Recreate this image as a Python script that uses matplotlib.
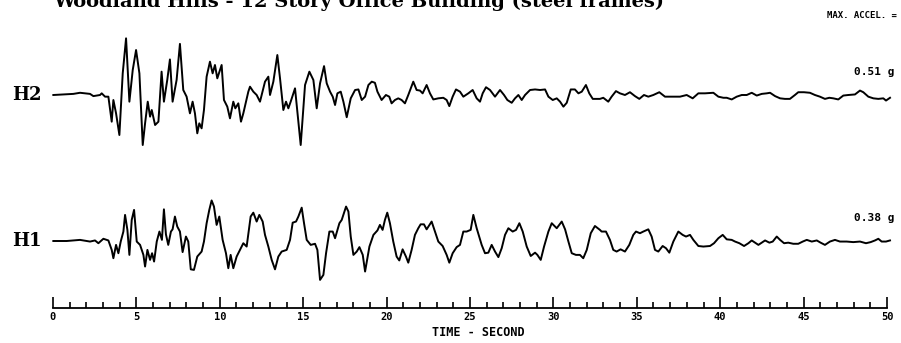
import numpy as np
import matplotlib
matplotlib.use('Agg')
import matplotlib.pyplot as plt
from matplotlib.ticker import FixedLocator

# digitised accelerogram, time in seconds, acceleration in g
h2_time = [0.02, 1.22, 1.62, 2.22, 2.42, 2.82, 2.92, 3.12, 3.32, 3.52, 3.62, 3.78, 3.98, 4.18, 4.38,
           4.58, 4.78, 4.98, 5.18, 5.38, 5.52, 5.68, 5.82, 5.92, 6.12, 6.32, 6.51, 6.65, 6.85, 7.01,
           7.17, 7.41, 7.61, 7.81, 8.01, 8.21, 8.37, 8.51, 8.65, 8.77, 8.91, 9.05, 9.21, 9.41, 9.57,
           9.71, 9.85, 10.11, 10.25, 10.45, 10.61, 10.81, 10.93, 11.11, 11.27, 11.41, 11.71, 11.81,
           12.01, 12.21, 12.41, 12.71, 12.91, 13.01, 13.21, 13.45, 13.61, 13.81, 13.97, 14.11, 14.25,
           14.51, 14.65, 14.85, 15.11, 15.37, 15.61, 15.81, 16.01, 16.25, 16.41, 16.61, 16.77, 16.91,
           17.05, 17.25, 17.41, 17.61, 17.85, 18.11, 18.31, 18.51, 18.71, 18.91, 19.11, 19.30, 19.45,
           19.70, 19.96, 20.16, 20.30, 20.50, 20.70, 20.90, 21.10, 21.30, 21.60, 21.80, 22.00, 22.16,
           22.40, 22.60, 22.80, 23.10, 23.40, 23.60, 23.76, 23.96, 24.16, 24.40, 24.60, 24.90, 25.16,
           25.40, 25.60, 25.76, 25.96, 26.20, 26.50, 26.80, 27.04, 27.24, 27.50, 27.70, 27.90, 28.10,
           28.30, 28.60, 28.90, 29.20, 29.50, 29.70, 29.96, 30.20, 30.40, 30.60, 30.80, 31.04, 31.29,
           31.50, 31.70, 31.95, 32.15, 32.36, 32.79, 32.99, 33.29, 33.49, 33.75, 33.99, 34.29, 34.59,
           34.89, 35.15, 35.43, 35.69, 35.99, 36.35, 36.69, 37.09, 37.59, 37.99, 38.35, 38.69, 39.09,
           39.59, 39.89, 40.19, 40.39, 40.69, 40.99, 41.29, 41.59, 41.89, 42.19, 42.49, 42.79, 42.99,
           43.29, 43.59, 43.88, 44.18, 44.48, 44.68, 45.02, 45.38, 45.68, 45.98, 46.28, 46.54, 46.78,
           47.08, 47.38, 47.68, 48.08, 48.38, 48.58, 48.88, 49.18, 49.48, 49.78, 49.94, 50.18]
h2_accel = [0.0, 0.01, 0.02, 0.01, -0.01, 0.0, 0.015, -0.015, -0.015, -0.24, -0.045, -0.165, -0.36, 0.195, 0.51,
            -0.06, 0.225, 0.405, 0.195, -0.45, -0.255, -0.06, -0.195, -0.135, -0.27, -0.24, 0.21, -0.06, 0.135, 0.32,
            -0.06, 0.135, 0.46, 0.045, -0.015, -0.165, -0.06, -0.165, -0.345, -0.255, -0.30, -0.135, 0.165, 0.30, 0.195,
            0.27, 0.15, 0.27, -0.045, -0.105, -0.21, -0.06, -0.12, -0.075, -0.24, -0.165, 0.03, 0.075,
            0.03, 0.0, -0.06, 0.12, 0.165, 0.0, 0.12, 0.36, 0.15, -0.135, -0.06, -0.12, -0.06,
            0.06, -0.15, -0.45, 0.09, 0.21, 0.135, -0.12, 0.105, 0.26, 0.105, 0.03, -0.015, -0.09,
            0.015, 0.03, -0.06, -0.20, -0.03, 0.045, 0.05, -0.045, -0.015, 0.09, 0.12, 0.11, 0.03,
            -0.045, 0.0, -0.015, -0.075, -0.045, -0.03, -0.045, -0.075, 0.0, 0.12, 0.045, 0.04, 0.015,
            0.09, 0.015, -0.04, -0.03, -0.025, -0.045, -0.10, -0.015, 0.05, 0.03, -0.015, 0.015, 0.045,
            -0.03, -0.06, 0.015, 0.07, 0.045, -0.015, 0.045, 0.0, -0.045, -0.07, -0.03, 0.0, -0.045,
            0.0, 0.045, 0.05, 0.045, 0.05, -0.015, -0.045, -0.03, -0.06, -0.105, -0.07, 0.05, 0.05,
            0.015, 0.03, 0.09, 0.015, -0.035, -0.035, -0.025, -0.06, -0.015, 0.035, 0.015, 0.0, 0.025,
            -0.01, -0.035, 0.0, -0.015, 0.0, 0.025, -0.015, -0.015, -0.015, 0.0, -0.03, 0.015, 0.015,
            0.02, -0.015, -0.025, -0.025, -0.04, -0.015, 0.0, 0.0, 0.02, -0.005, 0.01, 0.015, 0.02,
            -0.01, -0.03, -0.035, -0.035, 0.0, 0.025, 0.025, 0.02, 0.0, -0.015, -0.035, -0.025, -0.03,
            -0.04, -0.005, 0.0, 0.005, 0.04, 0.025, -0.015, -0.03, -0.035, -0.03, -0.05, -0.025]

h1_time = [0.02, 0.82, 1.62, 2.22, 2.52, 2.72, 3.02, 3.32, 3.52, 3.62, 3.78, 3.92, 4.06, 4.22, 4.32,
           4.46, 4.58, 4.72, 4.86, 5.02, 5.22, 5.42, 5.52, 5.66, 5.82, 5.94, 6.06, 6.22, 6.38, 6.53,
           6.65, 6.77, 6.91, 7.07, 7.17, 7.31, 7.45, 7.61, 7.77, 7.97, 8.11, 8.26, 8.45, 8.65, 8.91,
           9.05, 9.21, 9.37, 9.51, 9.65, 9.81, 9.97, 10.17, 10.37, 10.51, 10.65, 10.81, 11.01, 11.21,
           11.41, 11.61, 11.85, 12.01, 12.21, 12.37, 12.57, 12.71, 12.91, 13.11, 13.31, 13.51, 13.71,
           14.01, 14.21, 14.37, 14.57, 14.71, 14.91, 15.05, 15.21, 15.45, 15.71, 15.85, 16.01, 16.21,
           16.37, 16.57, 16.77, 16.91, 17.17, 17.31, 17.57, 17.71, 17.85, 18.01, 18.21, 18.37, 18.57,
           18.71, 18.97, 19.21, 19.45, 19.60, 19.76, 19.90, 20.04, 20.20, 20.40, 20.60, 20.76, 20.96,
           21.16, 21.30, 21.50, 21.70, 21.90, 22.04, 22.24, 22.40, 22.70, 22.90, 23.10, 23.36, 23.60,
           23.76, 23.96, 24.20, 24.40, 24.60, 24.80, 25.04, 25.20, 25.40, 25.70, 25.90, 26.10, 26.30,
           26.50, 26.70, 26.90, 27.10, 27.30, 27.56, 27.76, 27.96, 28.16, 28.40, 28.64, 28.90, 29.04,
           29.24, 29.44, 29.70, 29.90, 30.20, 30.50, 30.70, 30.90, 31.10, 31.35, 31.59, 31.79, 32.00,
           32.24, 32.49, 32.79, 32.89, 33.15, 33.39, 33.59, 33.79, 34.03, 34.29, 34.55, 34.79, 34.95,
           35.19, 35.39, 35.69, 35.89, 36.09, 36.29, 36.55, 36.75, 36.95, 37.19, 37.49, 37.75, 37.95,
           38.19, 38.39, 38.69, 38.99, 39.39, 39.63, 39.89, 40.15, 40.39, 40.69, 40.89, 41.15, 41.43,
           41.69, 41.89, 42.09, 42.29, 42.49, 42.69, 42.95, 43.15, 43.39, 43.59, 43.83, 44.08, 44.38,
           44.68, 44.95, 45.19, 45.49, 45.79, 46.02, 46.28, 46.58, 46.88, 47.18, 47.58, 47.98, 48.38,
           48.74, 49.02, 49.28, 49.48, 49.68, 49.94, 50.18]
h1_accel = [0.0, 0.0, 0.01, -0.005, 0.005, -0.02, 0.02, 0.005, -0.08, -0.155, -0.035, -0.11, -0.005, 0.085, 0.235,
            0.10, -0.125, 0.19, 0.28, -0.005, -0.035, -0.125, -0.23, -0.08, -0.17, -0.11, -0.185, -0.005, 0.085, 0.01,
            0.285, 0.06, -0.035, 0.085, 0.105, 0.22, 0.13, 0.085, -0.10, 0.04, -0.005, -0.255, -0.26, -0.14, -0.095,
            -0.005, 0.16, 0.28, 0.365, 0.31, 0.145, 0.22, 0.01, -0.11, -0.245, -0.125, -0.245, -0.14, -0.08,
            -0.02, -0.05, 0.22, 0.255, 0.175, 0.235, 0.175, 0.055, -0.05, -0.17, -0.255, -0.14, -0.095,
            -0.08, 0.01, 0.165, 0.175, 0.22, 0.30, 0.16, 0.01, -0.035, -0.025, -0.08, -0.35, -0.305,
            -0.11, 0.085, 0.085, 0.025, 0.16, 0.19, 0.31, 0.265, 0.04, -0.125, -0.095, -0.055, -0.125,
            -0.275, -0.05, 0.055, 0.095, 0.145, 0.10, 0.19, 0.255, 0.16, -0.005, -0.14, -0.175, -0.075,
            -0.14, -0.195, -0.08, 0.055, 0.115, 0.15, 0.15, 0.105, 0.175, 0.085, -0.005, -0.045, -0.125,
            -0.195, -0.11, -0.055, -0.035, 0.085, 0.085, 0.10, 0.235, 0.115, -0.035, -0.11, -0.105, -0.035,
            -0.095, -0.145, -0.065, 0.055, 0.115, 0.085, 0.10, 0.16, 0.085, -0.05, -0.135, -0.105, -0.125,
            -0.17, -0.05, 0.085, 0.16, 0.115, 0.175, 0.105, -0.005, -0.11, -0.125, -0.125, -0.155, -0.08,
            0.07, 0.135, 0.10, 0.085, 0.085, 0.01, -0.08, -0.095, -0.075, -0.095, -0.035, 0.055, 0.085,
            0.07, 0.085, 0.105, 0.04, -0.08, -0.095, -0.045, -0.065, -0.105, -0.005, 0.085, 0.055, 0.04,
            0.055, 0.01, -0.045, -0.05, -0.045, -0.02, 0.025, 0.055, 0.015, 0.01, -0.005, -0.02, -0.045,
            -0.02, 0.005, -0.015, -0.035, -0.015, 0.005, -0.015, -0.005, 0.04, 0.01, -0.02, -0.015, -0.025,
            -0.025, -0.005, 0.01, -0.005, 0.005, -0.015, -0.035, -0.005, 0.01, -0.005, -0.005, -0.01, -0.005,
            -0.02, -0.01, 0.005, 0.02, -0.005, -0.005, 0.005]

trace_names = ['H2', 'H1']
max_accel = ['0.51 g', '0.38 g']
time_ticks = np.arange(0, 51, 5)
time_minor = np.arange(0, 51, 1)

title = 'Woodland Hills - 12 Story Office Building (steel frames)'

fig = plt.figure(figsize=(9.01, 3.43), dpi=100)
ax = fig.add_axes([0, 0, 1, 1])

gpp = 0.009  # g per pixel of the original record
offsets = [0.0, -146 * gpp]
ax.plot(h2_time, np.array(h2_accel) + offsets[0], color='black', lw=1.4)
ax.plot(h1_time, np.array(h1_accel) + offsets[1], color='black', lw=1.4)

ax.set_xlim(-53 / 16.68, (901 - 53) / 16.68)
ax.set_ylim((95 - 343) * gpp, 95 * gpp)

mono = dict(family='DejaVu Sans Mono', weight='bold')
for name, off, peak in zip(trace_names, offsets, max_accel):
    ax.text(-2.45, off, name, family='DejaVu Serif', weight='bold', fontsize=13,
            ha='left', va='center')
    ax.text(50.45, off + 0.21, peak, fontsize=8, ha='right', va='center', **mono)
ax.text(50.6, 0.72, 'MAX. ACCEL. =', fontsize=6.5, ha='right', va='center', **mono)

# time axis
axis_y = (95 - 308) * gpp
for s in ['top', 'right', 'left']:
    ax.spines[s].set_visible(False)
ax.spines['bottom'].set_position(('data', axis_y))
ax.spines['bottom'].set_bounds(0, 50)
ax.spines['bottom'].set_linewidth(1.3)
ax.set_xticks(time_ticks)
ax.xaxis.set_minor_locator(FixedLocator(time_minor))
ax.tick_params(axis='x', which='major', direction='in', length=8, width=1.2, pad=3)
ax.tick_params(axis='x', which='minor', direction='in', length=4.5, width=1.2)
ax.set_yticks([])
for lbl in ax.get_xticklabels():
    lbl.set_fontfamily('DejaVu Sans Mono')
    lbl.set_fontweight('bold')
    lbl.set_fontsize(7.5)
ax.text(25.5, (95 - 333) * gpp, 'TIME - SECOND', fontsize=8.5, ha='center', va='center', **mono)

fig.text(53 / 901, 1 - 7 / 343, title, family='DejaVu Serif', weight='bold', fontsize=14,
         ha='left', va='baseline')

fig.savefig('out.png', dpi=100)
